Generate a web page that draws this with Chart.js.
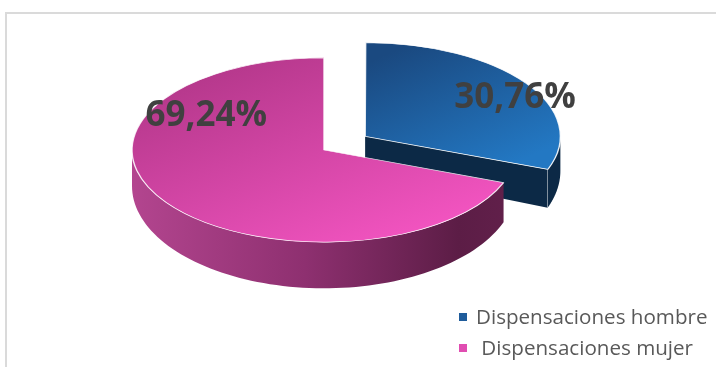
<!DOCTYPE html>
<html lang="es">
<head>
<meta charset="UTF-8" />
<title>Dispensaciones por sexo</title>
<script src="https://cdn.jsdelivr.net/npm/chart.js@4.4.1/dist/chart.umd.min.js"></script>
<style>
  body { margin: 0; background: #fff; }
  #marco {
    position: absolute; left: 5px; top: 12px; width: 730px; height: 380px;
    border-top: 2px solid #dadada; border-left: 2px solid #dadada;
  }
  #grafico { position: absolute; left: 0; top: 0; }
</style>
</head>
<body>
<div id="marco"></div>
<canvas id="grafico" width="716" height="367"></canvas>
<script>
const categorias = ['Dispensaciones hombre', ' Dispensaciones mujer'];
const porcentajes = [30.76, 69.24];
const coloresLeyenda = ['#1f5c9b', '#e04db1'];

// pie placement on screen
const CX = 324, CY = 150;
const RADIO = 192;
const ACHAT = 0.48;       // vertical squash of the disc
const SEPARACION = 50;    // how far the men slice is pulled out

// where each percentage goes: angle (deg) and fraction of the radius
const posEtiquetas = [{ ang: -31, f: 0.91 }, { ang: 214, f: 0.74 }];

// thickness of the side wall, a bit thicker toward the front
function grosor(y) { return 36 + (y - CY) * 0.11; }

function degradado(c) {
  const chart = c.chart, area = chart.chartArea;
  const i = c.dataIndex;
  if (!area) return coloresLeyenda[i];
  const x = (area.left + area.right) / 2, y = (area.top + area.bottom) / 2;
  let g;
  if (i === 0) {
    g = chart.ctx.createLinearGradient(x + 15, y - 165, x + 185, y + 24);
    g.addColorStop(0, '#1a4980');
    g.addColorStop(1, '#2378c3');
  } else {
    g = chart.ctx.createLinearGradient(x - 174, y - 152, x + 96, y + 175);
    g.addColorStop(0, '#b13688');
    g.addColorStop(1, '#f254c0');
  }
  return g;
}

function centroPorcion(arc) {
  const off = (arc.options.offset || 0) / 4;
  const mid = (arc.startAngle + arc.endAngle) / 2;
  return [CX + off * Math.cos(mid), CY + off * Math.sin(mid) * ACHAT];
}

function radioPorcion(arc) {
  const off = (arc.options.offset || 0) / 4;
  const circ = arc.endAngle - arc.startAngle;
  return arc.outerRadius + off * (1 - Math.sin(Math.min(Math.PI, circ)));
}

function pared(ctx, cx, cy, r, a0, a1, relleno) {
  const ini = Math.max(a0, 0), fin = Math.min(a1, Math.PI);
  if (fin <= ini) return;
  const n = 80, borde = [];
  for (let k = 0; k <= n; k++) {
    const a = ini + (fin - ini) * k / n;
    borde.push([cx + r * Math.cos(a), cy + r * Math.sin(a) * ACHAT]);
  }
  ctx.beginPath();
  borde.forEach((p, k) => (k ? ctx.lineTo(p[0], p[1]) : ctx.moveTo(p[0], p[1])));
  for (let k = n; k >= 0; k--) ctx.lineTo(borde[k][0], borde[k][1] + grosor(borde[k][1]));
  ctx.closePath();
  ctx.fillStyle = relleno;
  ctx.fill();
}

function corte(ctx, cx, cy, r, a, relleno) {
  const px = cx + r * Math.cos(a), py = cy + r * Math.sin(a) * ACHAT;
  ctx.beginPath();
  ctx.moveTo(cx, cy);
  ctx.lineTo(px, py);
  ctx.lineTo(px, py + grosor(py));
  ctx.lineTo(cx, cy + grosor(cy));
  ctx.closePath();
  ctx.fillStyle = relleno;
  ctx.fill();
  ctx.strokeStyle = 'rgba(255,255,255,0.7)';
  ctx.lineWidth = 1;
  ctx.beginPath();
  ctx.moveTo(px, py);
  ctx.lineTo(px, py + grosor(py));
  ctx.stroke();
}

const tarta3d = {
  id: 'tarta3d',
  beforeDatasetsDraw(chart) {
    const ctx = chart.ctx;
    const arcs = chart.getDatasetMeta(0).data;

    const gPared = ctx.createLinearGradient(CX - RADIO, 0, CX + RADIO, 0);
    gPared.addColorStop(0, '#b3458f');
    gPared.addColorStop(0.45, '#8e3070');
    gPared.addColorStop(0.85, '#5c1d46');
    gPared.addColorStop(1, '#62204b');
    const lados = ['#0c2946', gPared];

    arcs.forEach((arc, i) => {
      const [cx, cy] = centroPorcion(arc);
      const r = radioPorcion(arc);
      ctx.save();
      if (Math.cos(arc.endAngle) > 0.001) corte(ctx, cx, cy, r, arc.endAngle, lados[i]);
      if (-Math.cos(arc.startAngle) > 0.001) corte(ctx, cx, cy, r, arc.startAngle, lados[i]);
      pared(ctx, cx, cy, r, arc.startAngle, arc.endAngle, lados[i]);
      ctx.restore();
    });

    // squash the pie that Chart.js draws into a tilted disc
    const a = arcs[0];
    ctx.save();
    ctx.translate(CX, CY);
    ctx.scale(1, ACHAT);
    ctx.translate(-a.x, -a.y);
  },
  afterDatasetsDraw(chart) {
    const ctx = chart.ctx;
    ctx.restore();

    const arcs = chart.getDatasetMeta(0).data;
    ctx.save();
    ctx.font = 'bold 35px "Open Sans"';
    ctx.fillStyle = '#404040';
    ctx.textAlign = 'center';
    ctx.textBaseline = 'alphabetic';
    arcs.forEach((arc, i) => {
      const [cx, cy] = centroPorcion(arc);
      const p = posEtiquetas[i];
      const ang = p.ang * Math.PI / 180;
      const r = arc.outerRadius * p.f;
      const x = cx + r * Math.cos(ang);
      const y = cy + r * Math.sin(ang) * ACHAT;
      const texto = porcentajes[i].toFixed(2).replace('.', ',') + '%';
      ctx.fillText(texto, x, y + 14.5);
    });
    ctx.restore();

    // legend, bottom right
    ctx.save();
    ctx.font = '20.6px "Open Sans"';
    ctx.textAlign = 'left';
    ctx.textBaseline = 'alphabetic';
    categorias.forEach((nombre, i) => {
      const y = 324 + i * 31;
      ctx.fillStyle = coloresLeyenda[i];
      ctx.fillRect(459, y - 11, 8, 8);
      ctx.fillStyle = '#595959';
      ctx.fillText(nombre, 476, y);
    });
    ctx.restore();
  }
};

new Chart(document.getElementById('grafico'), {
  type: 'pie',
  data: {
    labels: categorias,
    datasets: [{
      data: porcentajes,
      backgroundColor: degradado,
      borderColor: 'rgba(255,255,255,0.85)',
      borderWidth: 1.5,
      offset: [SEPARACION * 4, 0],
      clip: false
    }]
  },
  options: {
    responsive: false,
    animation: false,
    events: [],
    radius: RADIO,
    plugins: {
      legend: { display: false },
      tooltip: { enabled: false }
    }
  },
  plugins: [tarta3d]
});
</script>
</body>
</html>
